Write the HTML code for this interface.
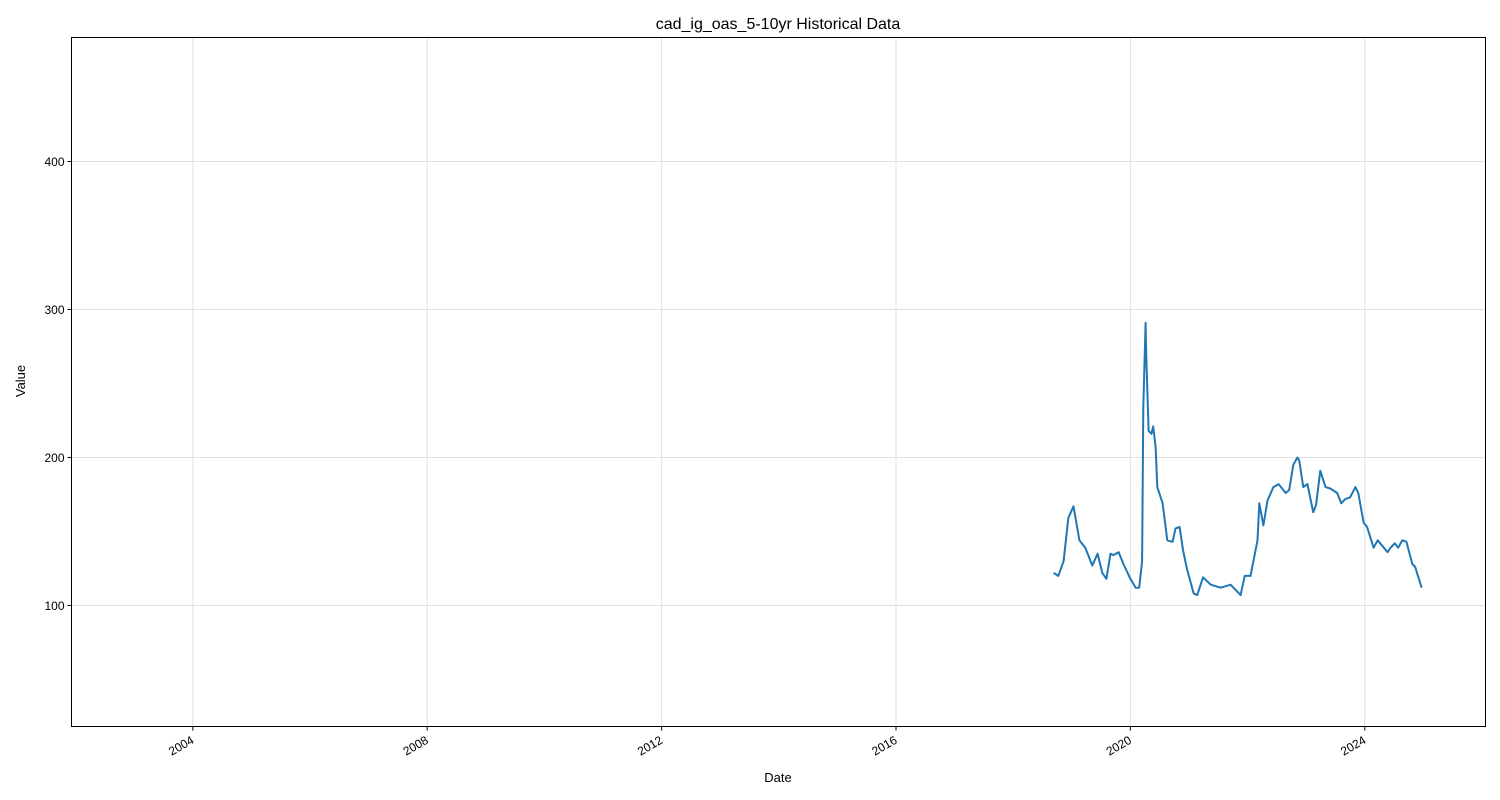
<!DOCTYPE html>
<html><head><meta charset="utf-8"><style>
body{margin:0;background:#fff;}
svg{display:block;font-family:"Liberation Sans","DejaVu Sans",sans-serif;}
</style></head><body>
<svg id="chart" width="1500" height="800" xmlns="http://www.w3.org/2000/svg">
<rect width="1500" height="800" fill="#fff"/>
<g id="grid"></g>
<g id="series"></g>
<g id="axes"></g>
<text x="778" y="29" font-size="16" text-anchor="middle">cad_ig_oas_5-10yr Historical Data</text>
<text x="778" y="782" font-size="13" text-anchor="middle">Date</text>
<text transform="translate(25,381) rotate(-90)" font-size="13" text-anchor="middle">Value</text>
</svg>
<script>
const dates=[2018.69,2018.77,2018.86,2018.94,2019.03,2019.10,2019.13,2019.23,2019.35,2019.44,2019.52,2019.59,2019.66,2019.71,2019.80,2019.88,2020.0,2020.09,2020.15,2020.20,2020.22,2020.26,2020.27,2020.31,2020.36,2020.39,2020.43,2020.46,2020.55,2020.63,2020.72,2020.77,2020.84,2020.90,2020.97,2021.08,2021.14,2021.24,2021.37,2021.54,2021.71,2021.88,2021.95,2022.05,2022.17,2022.20,2022.27,2022.34,2022.44,2022.53,2022.65,2022.71,2022.78,2022.85,2022.88,2022.95,2023.02,2023.12,2023.17,2023.24,2023.33,2023.41,2023.53,2023.60,2023.67,2023.75,2023.84,2023.89,2023.98,2024.04,2024.15,2024.22,2024.39,2024.44,2024.51,2024.57,2024.64,2024.71,2024.81,2024.86,2024.97];
const values=[122,120,130,159,167,151,144,139,127,135,122,118,135,134,136,128,118,112,112,130,234,291,270,218,216,221,207,180,169,144,143,152,153,137,124,108,107,119,114,112,114,107,120,120,144,169,154,171,180,182,176,178,195,200,198,180,182,163,168,191,180,179,176,169,172,173,180,176,156,153,139,144,136,139,142,139,144,143,128,126,112];
const xTicks=[2004,2008,2012,2016,2020,2024];
const yTicks=[100,200,300,400];
const L=71.5,R=1485.5,T=37.5,B=726.5;
const xMin=2001.93,xMax=2026.06,yMin=18.2,yMax=483.8;
const NS="http://www.w3.org/2000/svg";
function xs(v){return L+(v-xMin)/(xMax-xMin)*(R-L);}
function ys(v){return B-(v-yMin)/(yMax-yMin)*(B-T);}
function mk(tag,attrs,parent){const e=document.createElementNS(NS,tag);for(const k in attrs)e.setAttribute(k,attrs[k]);parent.appendChild(e);return e;}
const grid=document.getElementById('grid'),axes=document.getElementById('axes'),series=document.getElementById('series');
xTicks.forEach(t=>{const x=xs(t);
 const g=mk('line',{x1:x,x2:x,y1:T,y2:B,stroke:'#e0e0e0','stroke-width':1},grid);
 
 
 const tk=mk('line',{x1:x,x2:x,y1:B,y2:B+4,stroke:'#000','stroke-width':1},axes);
 
 
 const tx=mk('text',{transform:`translate(${x+2},${B+16}) rotate(-30)`,'font-size':12,'text-anchor':'end'},axes);
 
 
 tx.textContent=t;});
yTicks.forEach(t=>{const y=ys(t);
 const g=mk('line',{x1:L,x2:R,y1:y,y2:y,stroke:'#e0e0e0','stroke-width':1},grid);
 
 
 const tk=mk('line',{x1:L-4,x2:L,y1:y,y2:y,stroke:'#000','stroke-width':1},axes);
 
 
 const tx=mk('text',{x:L-7,y:y+4.5,'font-size':12,'text-anchor':'end'},axes);
 
 
 tx.textContent=t;});
const frame=mk('rect',{x:L,y:T,width:R-L,height:B-T,fill:'none',stroke:'#000','stroke-width':1},axes);


const d=dates.map((v,i)=>(i?'L':'M')+xs(v).toFixed(1)+','+ys(values[i]).toFixed(1)).join(' ');
const p=mk('path',{d:d,fill:'none',stroke:'#1f77b4','stroke-width':2,'stroke-linejoin':'round'},series);


</script>
</body></html>
